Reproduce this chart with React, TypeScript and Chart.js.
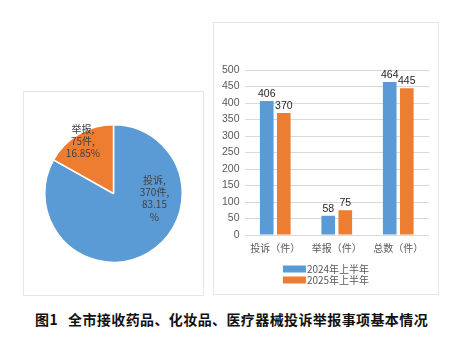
import React, { useEffect, useRef } from "react";
import { Chart, registerables } from "chart.js";

Chart.register(...registerables);

// ---- data ----
const pieLabels = ["投诉", "举报"];
const pieValues = [370, 75];
const pieColors = ["#5B9BD5", "#ED7D31"];

const barCategories = ["投诉（件）", "举报（件）", "总数（件）"];
const seriesNames = ["2024年上半年", "2025年上半年"];
const series2024 = [406, 58, 464];
const series2025 = [370, 75, 445];
const seriesColors = ["#5B9BD5", "#ED7D31"];
const yMin = 0;
const yMax = 500;
const yStep = 50;

const captionPrefix = "图1";
const captionText = "全市接收药品、化妆品、医疗器械投诉举报事项基本情况";

const CJK = '"Noto Sans CJK SC", "Liberation Sans", sans-serif';
const NUM = '"Liberation Sans", "Noto Sans CJK SC", sans-serif';

// pie data labels
const pieLabelPlugin = {
  id: "pieLabelPlugin",
  afterDatasetsDraw(chart: any, _args: any, opts: any) {
    const meta = chart.getDatasetMeta(0);
    const ctx = chart.ctx;
    const data = chart.data.datasets[0].data as number[];
    const total = data.reduce((a, b) => a + b, 0);
    ctx.save();
    ctx.fillStyle = "#404040";
    ctx.font = `10px ${CJK}`;
    ctx.textAlign = "center";
    ctx.textBaseline = "middle";
    meta.data.forEach((arc: any, i: number) => {
      const p = arc.getProps(["x", "y", "startAngle", "endAngle", "outerRadius"], true);
      const place = opts.places[i];
      const ang = place.angle !== undefined ? place.angle : (p.startAngle + p.endAngle) / 2;
      const cx = p.x + Math.cos(ang) * p.outerRadius * place.r;
      const cy = p.y + Math.sin(ang) * p.outerRadius * place.r;
      const pct = ((data[i] / total) * 100).toFixed(2);
      const lines = place.wrap
        ? [`${chart.data.labels[i]},`, `${data[i]}件,`, pct, "%"]
        : [`${chart.data.labels[i]},`, `${data[i]}件,`, `${pct}%`];
      const lh = 12.3;
      const y0 = cy - ((lines.length - 1) * lh) / 2;
      lines.forEach((t: string, k: number) => ctx.fillText(t, cx, y0 + k * lh));
    });
    ctx.restore();
  },
};

// bar value labels + vertical legend
const barExtrasPlugin = {
  id: "barExtrasPlugin",
  afterDatasetsDraw(chart: any) {
    const ctx = chart.ctx;
    ctx.save();
    ctx.fillStyle = "#262626";
    ctx.font = `10.5px ${NUM}`;
    ctx.textAlign = "center";
    ctx.textBaseline = "middle";
    chart.data.datasets.forEach((ds: any, di: number) => {
      const meta = chart.getDatasetMeta(di);
      meta.data.forEach((bar: any, i: number) => {
        ctx.fillText(String(ds.data[i]), bar.x, bar.y - 7);
      });
    });
    // legend
    ctx.font = `10px ${CJK}`;
    ctx.textAlign = "left";
    const boxW = 23;
    const boxH = 7;
    const gap = 1;
    const rowH = 11;
    const widths = chart.data.datasets.map((ds: any) => boxW + gap + ctx.measureText(ds.label).width);
    const maxW = Math.max(...widths);
    const x0 = (chart.width - maxW) / 2;
    const yStart = chart.chartArea.bottom + 34;
    chart.data.datasets.forEach((ds: any, di: number) => {
      const cy = yStart + di * rowH;
      ctx.fillStyle = ds.backgroundColor;
      ctx.fillRect(x0, cy - boxH / 2, boxW, boxH);
      ctx.fillStyle = "#595959";
      ctx.fillText(ds.label, x0 + boxW + gap, cy + 0.5);
    });
    ctx.restore();
  },
};

export default function App() {
  const pieRef = useRef<HTMLCanvasElement>(null);
  const barRef = useRef<HTMLCanvasElement>(null);

  useEffect(() => {
    const pie = new Chart(pieRef.current as HTMLCanvasElement, {
      type: "pie",
      data: {
        labels: pieLabels,
        datasets: [
          {
            data: pieValues,
            backgroundColor: pieColors,
            borderColor: "#ffffff",
            borderWidth: 1.5,
          },
        ],
      },
      options: {
        responsive: false,
        animation: false,
        layout: { padding: 20 },
        plugins: {
          legend: { display: false },
          tooltip: { enabled: false },
          pieLabelPlugin: {
            places: [
              { angle: 0.12, r: 0.6, wrap: true },
              { r: 0.88, wrap: false },
            ],
          },
        } as any,
      },
      plugins: [pieLabelPlugin],
    });

    const bar = new Chart(barRef.current as HTMLCanvasElement, {
      type: "bar",
      data: {
        labels: barCategories,
        datasets: [
          { label: seriesNames[0], data: series2024, backgroundColor: seriesColors[0] },
          { label: seriesNames[1], data: series2025, backgroundColor: seriesColors[1] },
        ],
      },
      options: {
        responsive: false,
        animation: false,
        layout: { padding: { left: 3, right: 9, top: 47, bottom: 33 } },
        datasets: {
          bar: { categoryPercentage: 0.555, barPercentage: 0.8 },
        } as any,
        scales: {
          x: {
            grid: { display: false, drawTicks: false },
            border: { display: false },
            ticks: { color: "#595959", font: { size: 10, family: CJK }, padding: 7 },
          },
          y: {
            min: yMin,
            max: yMax,
            grid: { color: "#d9d9d9", drawTicks: false },
            border: { display: false },
            ticks: {
              stepSize: yStep,
              color: "#595959",
              font: { size: 10.5, family: NUM },
              padding: 5,
            },
          },
        },
        plugins: {
          legend: { display: false },
          tooltip: { enabled: false },
        },
      },
      plugins: [barExtrasPlugin],
    });

    return () => {
      pie.destroy();
      bar.destroy();
    };
  }, []);

  return (
    <div
      style={{
        position: "fixed",
        left: 0,
        top: 0,
        width: 469,
        height: 347,
        background: "#ffffff",
        overflow: "hidden",
      }}
    >
      <div
        style={{
          position: "absolute",
          left: 23,
          top: 91,
          width: 181,
          height: 205,
          border: "1px solid #e6e6e6",
          boxSizing: "border-box",
        }}
      >
        <canvas ref={pieRef} width={179} height={203} style={{ display: "block", width: 179, height: 203 }} />
      </div>
      <div
        style={{
          position: "absolute",
          left: 213,
          top: 22,
          width: 226,
          height: 273,
          border: "1px solid #e6e6e6",
          boxSizing: "border-box",
        }}
      >
        <canvas ref={barRef} width={224} height={271} style={{ display: "block", width: 224, height: 271 }} />
      </div>
      <div
        style={{
          position: "absolute",
          left: 35,
          top: 309,
          fontFamily: CJK,
          fontWeight: 700,
          fontSize: 14,
          letterSpacing: 0.4,
          lineHeight: "20px",
          color: "#111111",
          whiteSpace: "nowrap",
        }}
      >
        <span>{captionPrefix}</span>
        <span style={{ marginLeft: 10 }}>{captionText}</span>
      </div>
    </div>
  );
}
